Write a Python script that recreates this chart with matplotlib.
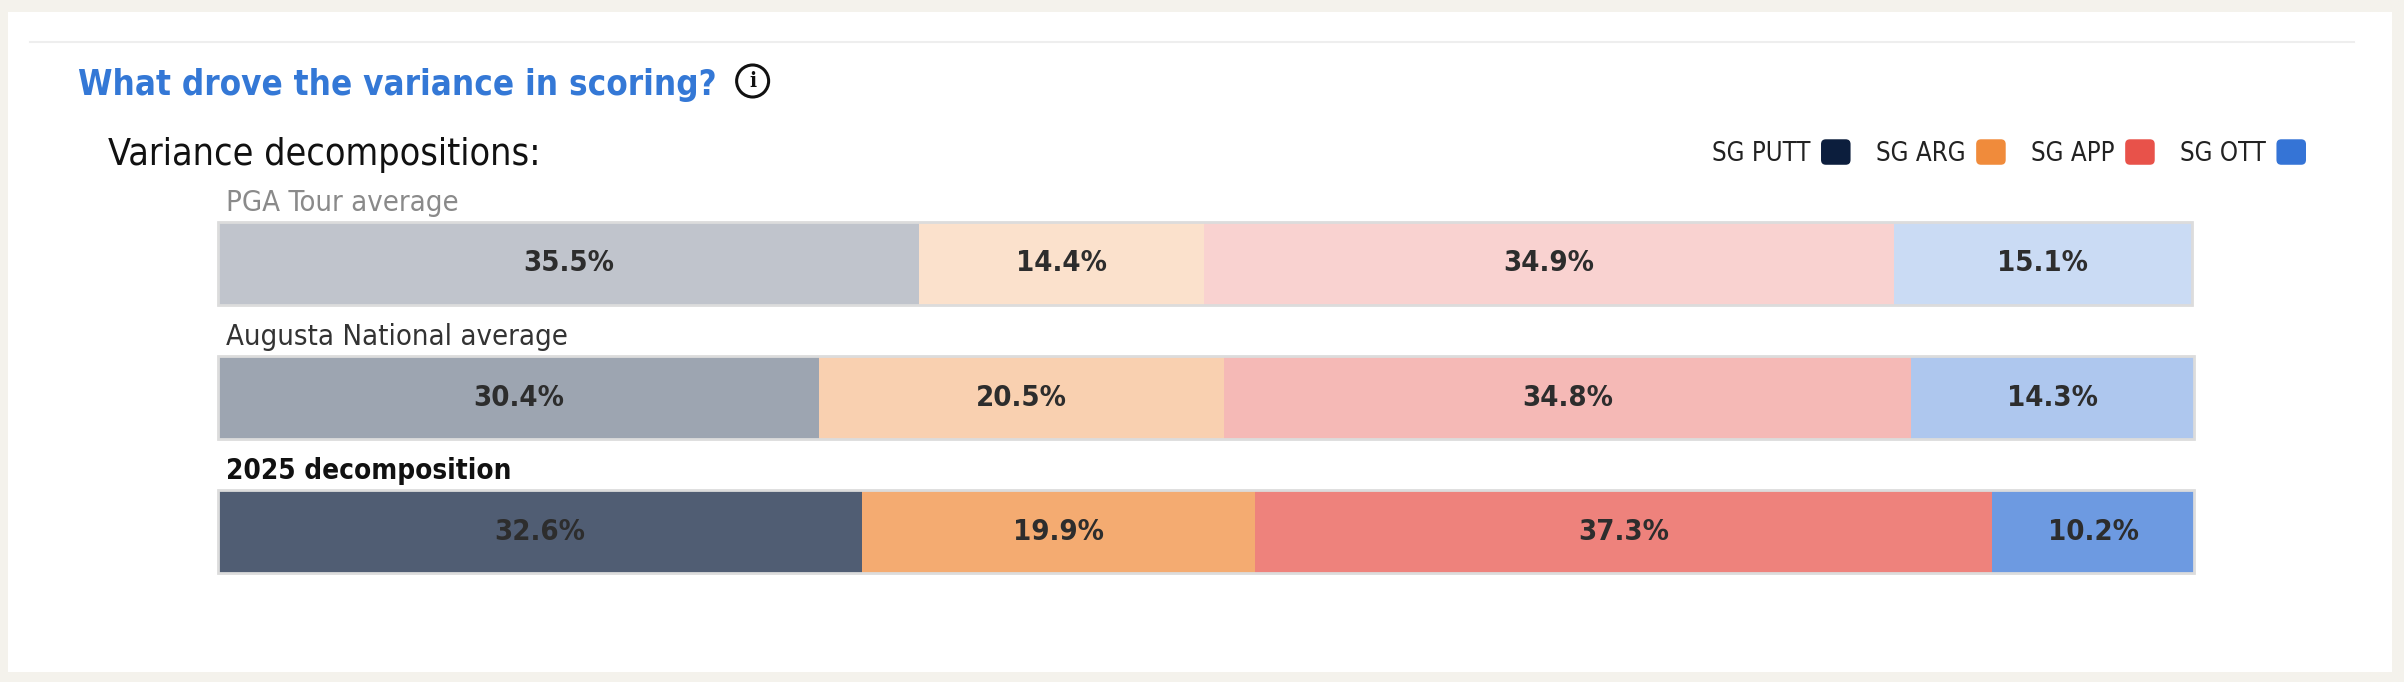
import matplotlib
matplotlib.use("Agg")
import numpy as np
import matplotlib.pyplot as plt
from matplotlib.colors import to_rgba
from matplotlib.lines import Line2D
from matplotlib.patches import Rectangle, Circle, FancyBboxPatch, Patch
from matplotlib.legend_handler import HandlerPatch
from matplotlib.transforms import IdentityTransform

# data
categories = ["SG PUTT", "SG ARG", "SG APP", "SG OTT"]
base_colors = ["#0c1e3d", "#f08b3b", "#e8524a", "#3574d6"]
row_names = ["PGA Tour average", "Augusta National average", "2025 decomposition"]
pga_avg = [35.5, 14.4, 34.9, 15.1]
augusta_avg = [30.4, 20.5, 34.8, 14.3]
decomp_2025 = [32.6, 19.9, 37.3, 10.2]

# styling per row (lighter for the averages)
row_alpha = [0.26, 0.40, 0.72]
row_label_colors = ["#8a8a8a", "#333333", "#111111"]
row_label_weights = ["normal", "normal", "bold"]
row_label_sizes = [21, 21, 20]

W, H, DPI = 2404, 682, 100
plt.rcParams["font.family"] = ["DejaVu Sans"]
plt.rcParams["font.stretch"] = "condensed"


def fx(x):
    return x / W


def fy(y):
    return 1 - y / H


fig = plt.figure(figsize=(W / DPI, H / DPI), dpi=DPI)
fig.patch.set_facecolor("#f4f2ec")

# white card + thin separator
fig.add_artist(Rectangle((fx(8), fy(672)), (2392 - 8) / W, (672 - 12) / H,
                         transform=fig.transFigure, facecolor="white",
                         edgecolor="none", zorder=-2))
fig.add_artist(Line2D([fx(30), fx(2354)], [fy(42), fy(42)], color="#eeeeee",
                      lw=1.5, zorder=-1))

# title with info icon
title = fig.text(fx(78), fy(95), "What drove the variance in scoring?",
                 fontsize=25, fontweight="bold", color="#3478d6", va="baseline")
renderer = fig.canvas.get_renderer()
bb = title.get_window_extent(renderer)
cx, cy, r = bb.x1 + 20 + 16, H - 81, 16
fig.add_artist(Circle((cx, cy), r, transform=IdentityTransform(), fill=False,
                      edgecolor="#111111", lw=2.2))
fig.text(cx / W, cy / H, "i", ha="center", va="center", fontsize=15,
         fontweight="bold", family="DejaVu Serif", color="#111111")

fig.text(fx(108), fy(165), "Variance decompositions:", fontsize=27,
         color="#111111", va="baseline")

# stacked bars
data = np.array([pga_avg, augusta_avg, decomp_2025])
lefts = np.hstack([np.zeros((data.shape[0], 1)), np.cumsum(data, axis=1)[:, :-1]])
y = np.arange(len(row_names))
h = 0.617

ax = fig.add_axes([fx(218), fy(573), (2194 - 218) / W, (573 - 222) / H])
ax.set_xlim(0, 100)
ax.set_ylim(len(row_names) - 1 + h / 2, -h / 2)
ax.axis("off")

for j, cat in enumerate(categories):
    colors = [to_rgba(base_colors[j], a) for a in row_alpha]
    bars = ax.barh(y, data[:, j], left=lefts[:, j], height=h, color=colors,
                   linewidth=0)
    ax.bar_label(bars, labels=[f"{v:.1f}%" for v in data[:, j]],
                 label_type="center", fontsize=21, fontweight="bold",
                 color="#2d2d2d")

ax.barh(y, data.sum(axis=1), height=h, fill=False, edgecolor="#dcdcdc",
        linewidth=2.0, clip_on=False)

px_per_unit = (573 - 222) / (len(row_names) - 1 + h)
for i, name in enumerate(row_names):
    ax.text(0.4, i - h / 2 - 11 / px_per_unit, name, va="baseline",
            fontsize=row_label_sizes[i], color=row_label_colors[i],
            fontweight=row_label_weights[i])


# legend: label first, then a rounded colour chip
def rounded_chip(legend, orig_handle, xdescent, ydescent, width, height, fontsize):
    return FancyBboxPatch((-xdescent, -ydescent), width, height,
                          boxstyle="round,pad=0,rounding_size=3.5")


handles = [Patch(facecolor=c, label=cat) for cat, c in zip(categories, base_colors)]
fig.legend(handles=handles, loc="center right", bbox_to_anchor=(fx(2306), fy(153)),
           ncol=4, frameon=False, markerfirst=False, fontsize=18.5,
           handlelength=1.15, handleheight=1.15, handletextpad=0.4,
           columnspacing=1.0, borderpad=0, borderaxespad=0, labelcolor="#222222",
           handler_map={Patch: HandlerPatch(patch_func=rounded_chip)})

fig.savefig("out.png", dpi=DPI, facecolor=fig.get_facecolor())
